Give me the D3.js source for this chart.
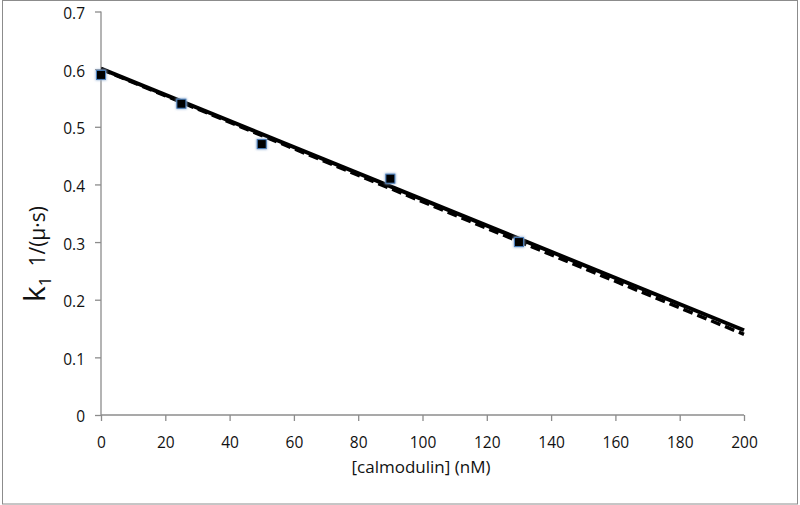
<!DOCTYPE html>
<html>
<head>
<meta charset="utf-8">
<script src="https://cdn.jsdelivr.net/npm/d3@7"></script>
<style>
  html, body { margin: 0; padding: 0; background: #fff; }
  svg { display: block; font-family: "Open Sans", sans-serif; }
</style>
</head>
<body>
<svg id="chart" width="800" height="505"></svg>
<script>
// measured points
const cam = [0, 25, 50, 90, 130];
const k1 = [0.59, 0.54, 0.47, 0.41, 0.30];

// two fitted lines (endpoints)
const fitX = [0, 200];
const fitSolid = [0.601, 0.147];
const fitDashed = [0.600, 0.140];

const xTicks = [0, 20, 40, 60, 80, 100, 120, 140, 160, 180, 200];
const yTicks = [0, 0.1, 0.2, 0.3, 0.4, 0.5, 0.6, 0.7];

const svg = d3.select('#chart');
const AXIS = '#8c8c8c';

// outer frame
svg.append('rect')
  .attr('x', 2.5).attr('y', 0.5).attr('width', 795).attr('height', 503.5)
  .attr('fill', 'none').attr('stroke', '#8c8c8c').attr('stroke-width', 1);

const x = d3.scaleLinear().domain([0, 200]).range([101, 744]);
const y = d3.scaleLinear().domain([0, 0.7]).range([415, 11.5]);

// axes
const xAxis = svg.append('g').attr('transform', `translate(0,${y(0)})`)
  .call(d3.axisBottom(x).tickValues(xTicks).tickSize(6).tickPadding(16).tickFormat(d3.format('d')));
const yAxis = svg.append('g').attr('transform', `translate(${x(0)},0)`)
  .call(d3.axisLeft(y).tickValues(yTicks).tickSize(6).tickPadding(10).tickFormat(d => d === 0 ? '0' : d3.format('.1f')(d)));

[xAxis, yAxis].forEach(g => {
  g.attr('font-size', null).attr('font-family', null);
  g.select('.domain').attr('stroke', AXIS).attr('stroke-width', 1.3);
  g.selectAll('.tick line').attr('stroke', AXIS).attr('stroke-width', 1.3);
  g.selectAll('.tick text').attr('fill', '#111')
    .style('font-size', '15.5px')
    .style('font-family', '"Open Sans", sans-serif');
});
yAxis.selectAll('.tick text').attr('dy', '0.45em');
xAxis.select('.domain').attr('d', `M${x(0)},0H${x(200)}`);
yAxis.select('.domain').attr('d', `M0,${y(0)}V${y(0.7)}`);

// lines
const line = d3.line().x(d => x(d[0])).y(d => y(d[1]));
svg.append('path')
  .datum(fitX.map((v, i) => [v, fitDashed[i]]))
  .attr('d', line).attr('fill', 'none').attr('stroke', '#000')
  .attr('stroke-width', 3.5).attr('stroke-dasharray', '10,5');
svg.append('path')
  .datum(fitX.map((v, i) => [v, fitSolid[i]]))
  .attr('d', line).attr('fill', 'none').attr('stroke', '#000')
  .attr('stroke-width', 4);

// markers
const defs = svg.append('defs');
const f = defs.append('filter').attr('id', 'glow').attr('x', '-50%').attr('y', '-50%').attr('width', '200%').attr('height', '200%');
f.append('feGaussianBlur').attr('stdDeviation', 1);

const pts = cam.map((c, i) => ({ c, k: k1[i] }));
const s = 9;
svg.append('g').selectAll('rect.glow').data(pts).enter()
  .append('rect')
  .attr('x', d => x(d.c) - s / 2 - 1).attr('y', d => y(d.k) - s / 2 - 1)
  .attr('width', s + 2).attr('height', s + 2)
  .attr('fill', '#9fb8d8').attr('filter', 'url(#glow)');
svg.append('g').selectAll('rect.pt').data(pts).enter()
  .append('rect')
  .attr('x', d => x(d.c) - s / 2).attr('y', d => y(d.k) - s / 2)
  .attr('width', s).attr('height', s)
  .attr('fill', '#000').attr('stroke', '#4a7ebb').attr('stroke-width', 1);

// axis titles
svg.append('text')
  .attr('x', 421).attr('y', 473).attr('text-anchor', 'middle')
  .attr('font-size', '17px').attr('fill', '#111')
  .text('[calmodulin]  (nM)');

const yl = svg.append('text')
  .attr('transform', 'translate(45,254) rotate(-90)')
  .attr('text-anchor', 'middle').attr('fill', '#111');
yl.append('tspan').attr('font-size', '30px').text('k');
yl.append('tspan').attr('font-size', '17px').attr('dy', 6).text('1');
yl.append('tspan').attr('font-size', '21px').attr('dy', -6).attr('dx', 10).text('1/(µ·s)');
</script>
</body>
</html>
